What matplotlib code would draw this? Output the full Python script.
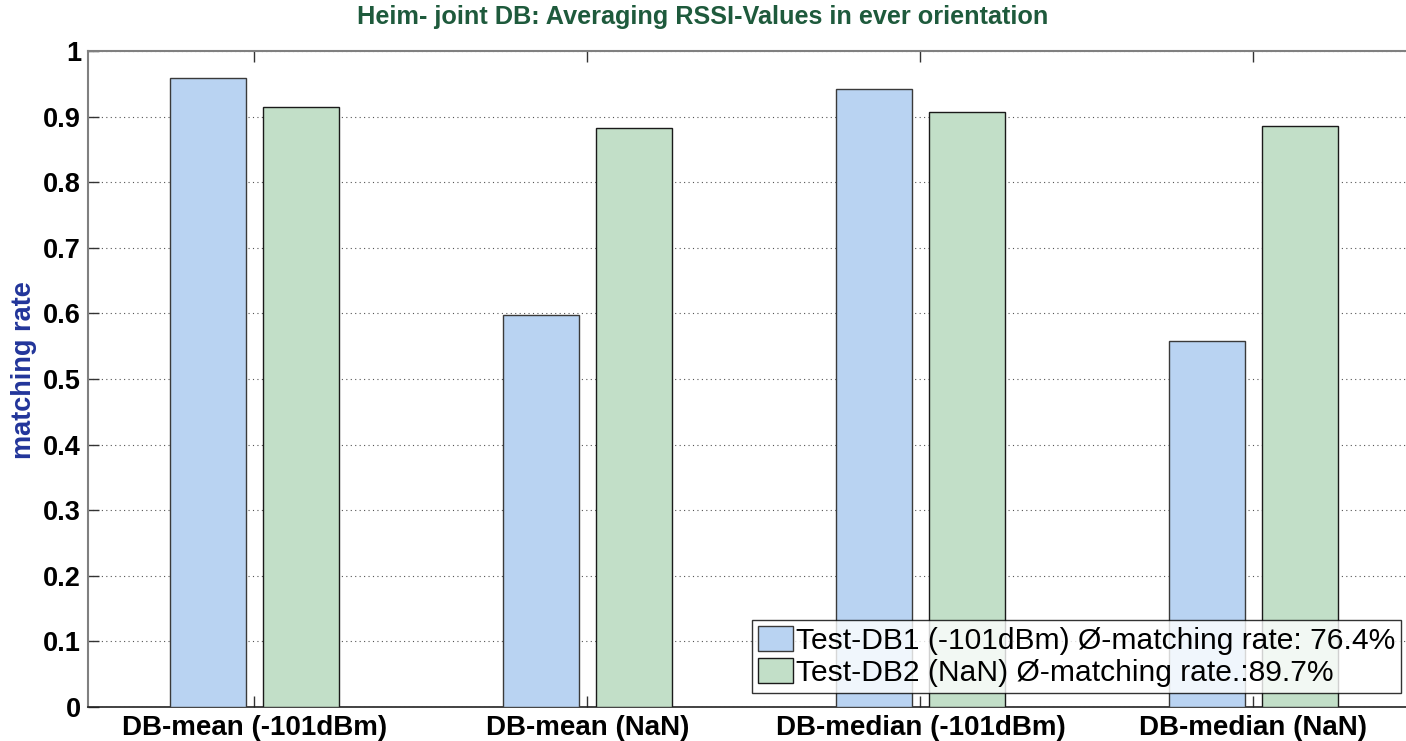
import numpy as np
import matplotlib
matplotlib.use("Agg")
import matplotlib.pyplot as plt

# -------------------------------
# Data
# -------------------------------
categories = ["DB-mean (-101dBm)", "DB-mean (NaN)", "DB-median (-101dBm)", "DB-median (NaN)"]
db1_values = [0.959, 0.597, 0.942, 0.558]
db2_values = [0.915, 0.883, 0.907, 0.886]
series_labels = ["Test-DB1 (-101dBm) \u00d8-matching rate: 76.4%",
                 "Test-DB2 (NaN) \u00d8-matching rate.:89.7%"]
y_ticks = [0, 0.1, 0.2, 0.3, 0.4, 0.5, 0.6, 0.7, 0.8, 0.9, 1]
y_tick_labels = ["0", "0.1", "0.2", "0.3", "0.4", "0.5", "0.6", "0.7", "0.8", "0.9", "1"]

plt.rcParams["font.family"] = ["Liberation Sans", "DejaVu Sans"]

# -------------------------------
# Figure
# -------------------------------
fig = plt.figure(figsize=(14.06, 7.41), dpi=100)
# axes runs past the right edge of the picture, like the cropped original
ax = fig.add_axes([88 / 1406, 34 / 741, 1332 / 1406, 656 / 741])

x = np.arange(1, len(categories) + 1)
bar_w = 0.228
offset = 0.141

ax.bar(x - offset, db1_values, width=bar_w, color="#B9D3F2", edgecolor="#3a3a3a",
       linewidth=1.0, label=series_labels[0], zorder=3)
ax.bar(x + offset, db2_values, width=bar_w, color="#C2DFC8", edgecolor="#1a1a1a",
       linewidth=1.0, label=series_labels[1], zorder=3)

ax.set_xlim(0.5, 4.5)
ax.set_ylim(0, 1)
ax.set_xticks(x)
ax.set_xticklabels(categories, fontsize=20, fontweight="bold")
ax.set_yticks(y_ticks)
ax.set_yticklabels(y_tick_labels, fontsize=19.5, fontweight="bold")

ax.tick_params(axis="both", direction="in", length=8, width=1.0, color="#333333",
               top=True, right=True, pad=5)
ax.tick_params(axis="x", pad=6)

ax.yaxis.grid(True, linestyle=(0, (1, 3)), color="#555555", linewidth=0.8, zorder=0)
ax.set_axisbelow(True)

for side in ["top", "left"]:
    ax.spines[side].set_color("#808080")
    ax.spines[side].set_linewidth(1.5)
ax.spines["bottom"].set_color("#222222")
ax.spines["bottom"].set_linewidth(1.2)
ax.spines["right"].set_visible(False)

ax.set_ylabel("matching rate", fontsize=19.5, fontweight="bold", color="#22359A")
ax.yaxis.set_label_coords(37 / 1406, 0.5, transform=fig.transFigure)
fig.text(0.5, 1 - 17 / 741, "Heim- joint DB: Averaging RSSI-Values in ever orientation",
         fontsize=18.2, fontweight="bold", color="#1E5A3C", ha="center", va="center")

leg = ax.legend(loc="lower left", bbox_to_anchor=(752 / 1406, 48 / 741),
                bbox_transform=fig.transFigure, fontsize=21.6, frameon=True, fancybox=False,
                handlelength=1.17, handleheight=0.9, handletextpad=0.1, borderpad=0.2,
                labelspacing=0.1, borderaxespad=0)
leg.get_frame().set_edgecolor("black")
leg.get_frame().set_linewidth(1.0)

plt.savefig("out.png", dpi=100)
plt.close()
